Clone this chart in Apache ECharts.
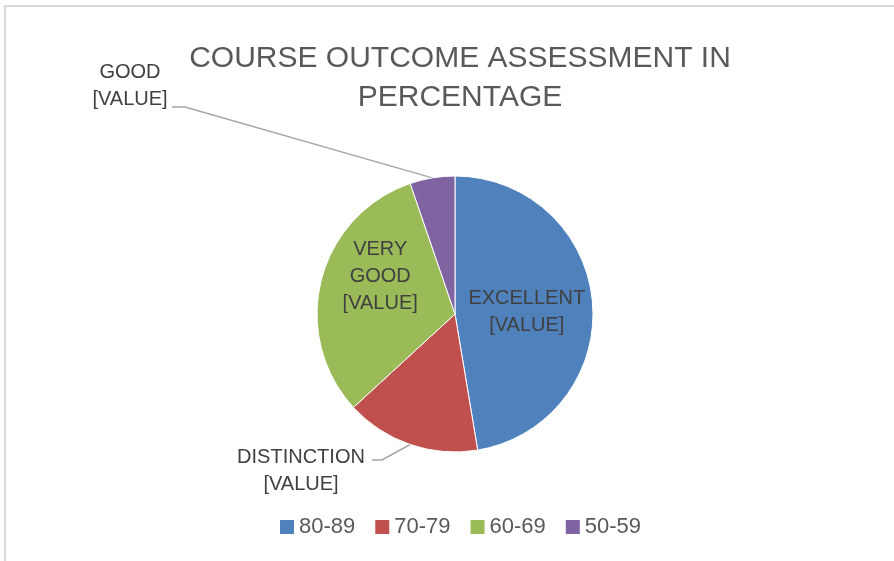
<!DOCTYPE html>
<html>
<head>
<meta charset="utf-8">
<script src="https://cdn.jsdelivr.net/npm/echarts@6/dist/echarts.min.js"></script>
<style>
  html, body { margin: 0; padding: 0; background: #fff; }
  #chart { width: 894px; height: 561px; }
</style>
</head>
<body>
<div id="chart"></div>
<script>
const FONT = '"Liberation Sans", Arial, sans-serif';

// data (shares of the class, %)
const ranges = ["80-89", "70-79", "60-69", "50-59"];
const grades = ["EXCELLENT", "DISTINCTION", "VERY\nGOOD", "GOOD"];
const shares = [47.37, 15.79, 31.58, 5.26];
const colors = ["#4F81BD", "#C0504D", "#9BBB59", "#8064A2"];
const placement = ["inside", "outside", "inside", "outside"];

const CENTER = [455, 314];
const RADIUS = 138;

// where the spreadsheet parked each data label (outside ones get a bent leader)
const labelSpots = [
  { dx: 0, dy: 4 },
  { x: 301, y: 471, elbow: [382, 460], end: [372, 460] },
  { dx: -5, dy: -20 },
  { x: 130, y: 86, elbow: [185, 107], end: [172, 107] },
];

// fallback for the leader start: middle of the slice's arc
function arcMid(i) {
  const total = shares.reduce((a, b) => a + b, 0);
  let before = 0;
  for (let k = 0; k < i; k++) before += shares[k];
  const a = ((before + shares[i] / 2) / total) * Math.PI * 2;
  return [CENTER[0] + RADIUS * Math.sin(a), CENTER[1] - RADIUS * Math.cos(a)];
}

const chart = echarts.init(document.getElementById("chart"), null, { renderer: "canvas" });

chart.setOption({
  backgroundColor: "#fff",
  animation: false,
  title: {
    text: "COURSE OUTCOME ASSESSMENT IN\nPERCENTAGE",
    left: 455,
    top: 34,
    textAlign: "center",
    textStyle: {
      fontFamily: FONT,
      fontSize: 30,
      fontWeight: "normal",
      color: "#595959",
      lineHeight: 39,
    },
  },
  legend: {
    left: 275,
    top: 511,
    icon: "rect",
    itemWidth: 14,
    itemHeight: 14,
    itemGap: 20,
    selectedMode: false,
    itemStyle: { borderWidth: 0 },
    textStyle: { fontFamily: FONT, fontSize: 22, color: "#595959" },
    data: ranges,
  },
  graphic: [
    {
      type: "rect",
      silent: true,
      shape: { x: 5, y: 6, width: 1000, height: 1000 },
      style: { fill: "none", stroke: "#D9D9D9", lineWidth: 2 },
    },
  ],
  series: [
    {
      type: "pie",
      center: CENTER,
      radius: RADIUS,
      startAngle: 90,
      clockwise: true,
      avoidLabelOverlap: false,
      emphasis: { disabled: true },
      itemStyle: { borderColor: "#fff", borderWidth: 1 },
      label: {
        fontFamily: FONT,
        fontSize: 20,
        lineHeight: 27,
        color: "#404040",
        align: "center",
        formatter: (p) => p.data.grade + "\n[VALUE]",
      },
      labelLine: {
        show: true,
        length: 20,
        length2: 10,
        lineStyle: { color: "#A6A6A6", width: 1.5 },
      },
      labelLayout: (p) => {
        const s = labelSpots[p.dataIndex];
        if (s.x == null) return { dx: s.dx, dy: s.dy };
        const start = p.labelLinePoints ? p.labelLinePoints[0] : arcMid(p.dataIndex);
        return {
          x: s.x,
          y: s.y,
          align: "center",
          verticalAlign: "middle",
          labelLinePoints: [start, s.elbow, s.end],
        };
      },
      data: ranges.map((r, i) => ({
        name: r,
        value: shares[i],
        grade: grades[i],
        itemStyle: { color: colors[i] },
        label: { position: placement[i] },
      })),
    },
  ],
});
</script>
</body>
</html>
